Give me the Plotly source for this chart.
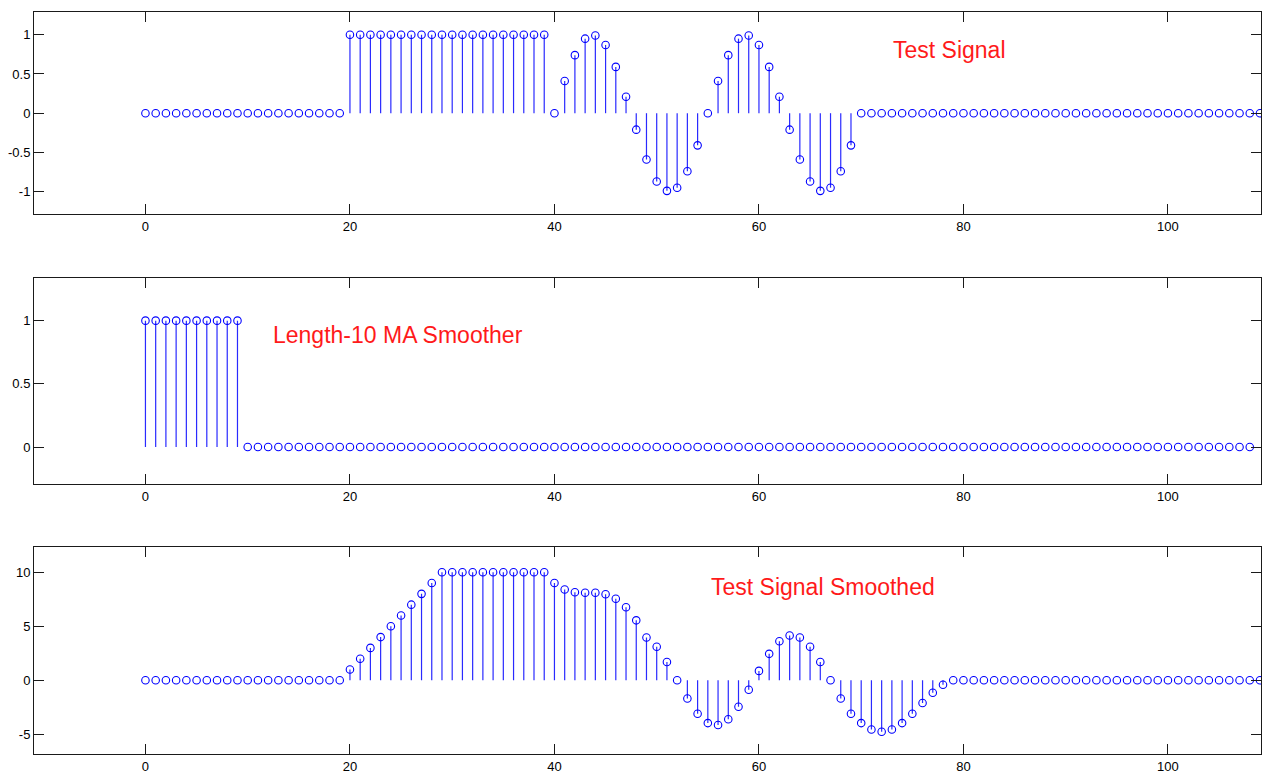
import plotly.graph_objects as go

# ---------------- data ----------------
n_signal = list(range(110))
test_signal = [
    0, 0, 0, 0, 0, 0, 0, 0, 0, 0, 0, 0, 0, 0, 0, 0, 0, 0, 0, 0,
    1, 1, 1, 1, 1, 1, 1, 1, 1, 1, 1, 1, 1, 1, 1, 1, 1, 1, 1, 1,
    0, 0.41, 0.74, 0.95, 0.99, 0.87, 0.59, 0.21, -0.21, -0.59, -0.87, -0.99, -0.95, -0.74, -0.41,
    0, 0.41, 0.74, 0.95, 0.99, 0.87, 0.59, 0.21, -0.21, -0.59, -0.87, -0.99, -0.95, -0.74, -0.41,
    0, 0, 0, 0, 0, 0, 0, 0, 0, 0, 0, 0, 0, 0, 0, 0, 0, 0, 0, 0,
    0, 0, 0, 0, 0, 0, 0, 0, 0, 0, 0, 0, 0, 0, 0, 0, 0, 0, 0, 0,
]

n_filter = list(range(109))
ma_filter = [
    1, 1, 1, 1, 1, 1, 1, 1, 1, 1,
    0, 0, 0, 0, 0, 0, 0, 0, 0, 0, 0, 0, 0, 0, 0, 0, 0, 0, 0, 0,
    0, 0, 0, 0, 0, 0, 0, 0, 0, 0, 0, 0, 0, 0, 0, 0, 0, 0, 0, 0,
    0, 0, 0, 0, 0, 0, 0, 0, 0, 0, 0, 0, 0, 0, 0, 0, 0, 0, 0, 0,
    0, 0, 0, 0, 0, 0, 0, 0, 0, 0, 0, 0, 0, 0, 0, 0, 0, 0, 0, 0,
    0, 0, 0, 0, 0, 0, 0, 0, 0, 0, 0, 0, 0, 0, 0, 0, 0, 0, 0,
]

n_smoothed = list(range(119))
smoothed = [
    0, 0, 0, 0, 0, 0, 0, 0, 0, 0, 0, 0, 0, 0, 0, 0, 0, 0, 0, 0,
    1, 2, 3, 4, 5, 6, 7, 8, 9, 10,
    10, 10, 10, 10, 10, 10, 10, 10, 10, 10,
    9, 8.41, 8.15, 8.10, 8.10, 7.96, 7.55, 6.76, 5.55, 3.96,
    3.10, 1.69, 0, -1.69, -3.10, -3.96, -4.14, -3.61, -2.45, -0.87,
    0.87, 2.45, 3.61, 4.14, 3.96, 3.10, 1.69, 0, -1.69, -3.10,
    -3.96, -4.55, -4.76, -4.55, -3.96, -3.10, -2.10, -1.15, -0.41, 0,
    0, 0, 0, 0, 0, 0, 0, 0, 0, 0, 0, 0, 0, 0, 0, 0, 0, 0, 0, 0,
    0, 0, 0, 0, 0, 0, 0, 0, 0, 0, 0, 0, 0, 0, 0, 0, 0, 0, 0,
]

x_ticks = [0, 20, 40, 60, 80, 100]
y_ticks_top = [-1, -0.5, 0, 0.5, 1]
y_ticks_mid = [0, 0.5, 1]
y_ticks_bot = [-5, 0, 5, 10]

labels = ["Test Signal", "Length-10 MA Smoother", "Test Signal Smoothed"]
label_pos = [(72.9, 0.81), (12.3, 0.885), (55.15, 8.62)]

# ---------------- styling ----------------
BLUE = "#0000FF"
STEM = "#2a2aff"
AX = "#1a1a1a"
FONT = "Liberation Sans, Arial, sans-serif"
W, H = 1265, 774

def stem_xy(n, v):
    xs, ys = [], []
    for a, b in zip(n, v):
        xs += [a, a, None]
        ys += [0, b, None]
    return xs, ys

fig = go.Figure()
series = [(n_signal, test_signal), (n_filter, ma_filter), (n_smoothed, smoothed)]
for i, (n, v) in enumerate(series):
    xa = "x" if i == 0 else f"x{i+1}"
    ya = "y" if i == 0 else f"y{i+1}"
    sx, sy = stem_xy(n, v)
    fig.add_trace(go.Scatter(x=sx, y=sy, mode="lines", line=dict(color=STEM, width=1.2),
                             xaxis=xa, yaxis=ya, showlegend=False, hoverinfo="skip"))
    fig.add_trace(go.Scatter(x=n, y=v, mode="markers",
                             marker=dict(symbol="circle-open", size=7.5, color=BLUE,
                                         line=dict(color=BLUE, width=1.1)),
                             xaxis=xa, yaxis=ya, showlegend=False))

x_dom = [34 / W, 1261 / W]
y_doms = [[1 - 214 / H, 1 - 12 / H], [1 - 484.3 / H, 1 - 278.3 / H], [1 - 754.3 / H, 1 - 547.3 / H]]
y_ranges = [[-1.285, 1.29], [-0.295, 1.335], [-6.85, 12.31]]
y_ticks = [y_ticks_top, y_ticks_mid, y_ticks_bot]

common = dict(showgrid=False, zeroline=False, showline=True, linecolor=AX, linewidth=1,
              mirror="ticks", ticks="inside", ticklen=10, tickcolor=AX, tickwidth=1,
              tickfont=dict(family=FONT, size=13, color="#000000"))

layout = dict(width=W, height=H, margin=dict(l=0, r=0, t=0, b=0),
              paper_bgcolor="white", plot_bgcolor="white", showlegend=False)
for i in range(3):
    xk = "xaxis" if i == 0 else f"xaxis{i+1}"
    yk = "yaxis" if i == 0 else f"yaxis{i+1}"
    ya = "y" if i == 0 else f"y{i+1}"
    xa = "x" if i == 0 else f"x{i+1}"
    layout[xk] = dict(domain=x_dom, anchor=ya, range=[-10.9, 109.1], tickvals=x_ticks,
                      ticktext=[str(t) for t in x_ticks], **common)
    layout[yk] = dict(domain=y_doms[i], anchor=xa, range=y_ranges[i], tickvals=y_ticks[i],
                      ticktext=[f"{t:g}" for t in y_ticks[i]], **common)
fig.update_layout(**layout)

for i, (txt, (px, py)) in enumerate(zip(labels, label_pos)):
    xa = "x" if i == 0 else f"x{i+1}"
    ya = "y" if i == 0 else f"y{i+1}"
    fig.add_annotation(x=px, y=py, xref=xa, yref=ya, text=txt, showarrow=False,
                       xanchor="left", yanchor="middle",
                       font=dict(family=FONT, size=23, color="#FF1A1A"))

fig.write_html("out.html")
